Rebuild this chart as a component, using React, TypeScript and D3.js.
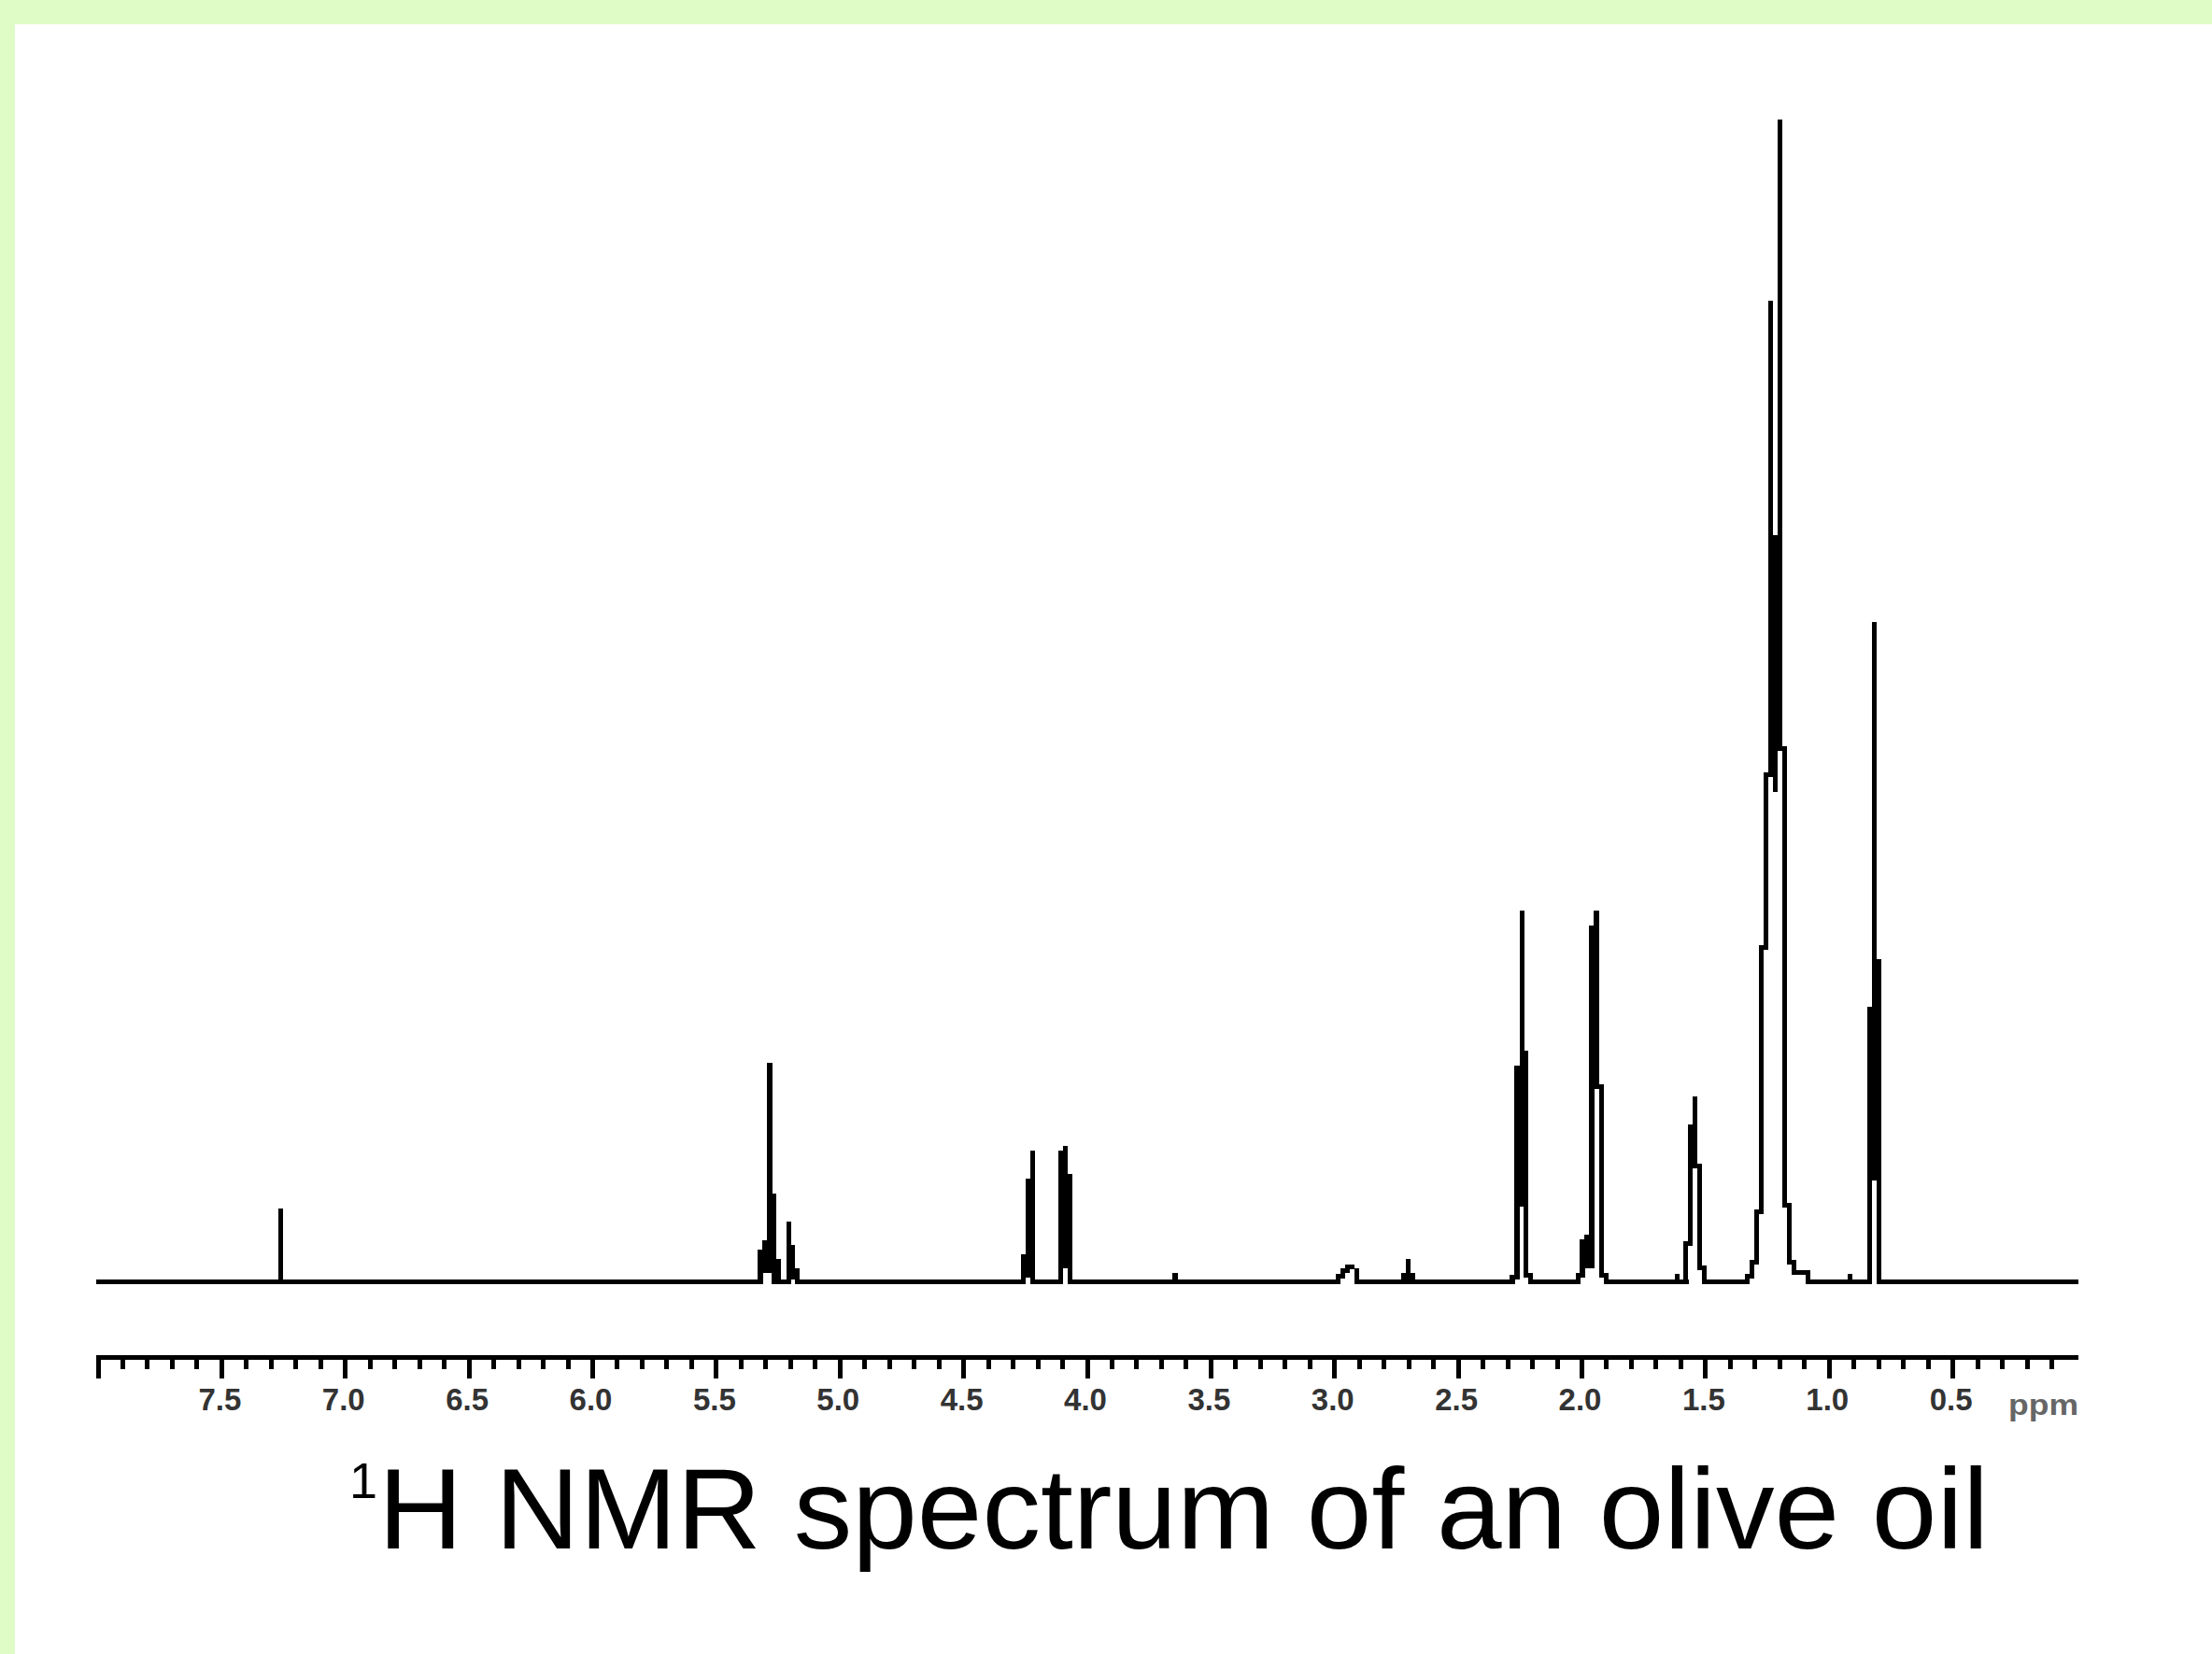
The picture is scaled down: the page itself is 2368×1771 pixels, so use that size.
import React from 'react';
import * as d3 from 'd3';

// Each entry: [chemical shift (ppm), lowest intensity, highest intensity] of one drawn column of the trace.
// Intensities are in % of the tallest line (the CH2 envelope at ~1.2 ppm).
type Col = [number, number, number];

const chloroform: Col[] = [[7.262, 0, 6.1]];

const olefinic: Col[] = [
  [5.322, 0, 2.6],
  [5.303, 1.0, 3.4],
  [5.284, 1.0, 18.7],
  [5.268, 0, 7.4],
  [5.25, 0, 1.8],
  [5.208, 0, 5.0],
  [5.191, 0.4, 3.0],
  [5.173, 0, 1.0],
];

const glyceryl: Col[] = [
  [4.258, 0, 2.2],
  [4.239, 0.6, 8.7],
  [4.22, 0, 11.1],
  [4.107, 0, 11.1],
  [4.088, 1.4, 11.5],
  [4.069, 0, 9.1],
];

const minor365: Col[] = [[3.645, 0, 0.55]];

const broad295: Col[] = [
  [2.986, 0, 0.5],
  [2.967, 0.5, 1.0],
  [2.948, 1.0, 1.3],
  [2.93, 1.3, 1.3],
  [2.911, 0, 1.0],
];

const bisAllylic: Col[] = [
  [2.72, 0, 0.6],
  [2.703, 0, 1.8],
  [2.685, 0, 0.6],
];

const alphaCarbonyl: Col[] = [
  [2.281, 0, 0.4],
  [2.262, 0.4, 18.4],
  [2.243, 6.7, 31.8],
  [2.227, 0.6, 19.7],
  [2.208, 0, 0.6],
];

const allylic: Col[] = [
  [2.014, 0, 0.6],
  [1.998, 0.6, 3.5],
  [1.979, 1.4, 3.9],
  [1.96, 1.4, 30.5],
  [1.941, 16.8, 31.8],
  [1.922, 0.6, 16.8],
  [1.903, 0, 0.6],
];

const betaCarbonyl: Col[] = [
  [1.614, 0, 0.5],
  [1.582, 0, 3.3],
  [1.561, 3.3, 13.4],
  [1.542, 10.0, 15.8],
  [1.523, 1.2, 10.0],
  [1.504, 0, 1.2],
];

const methylene: Col[] = [
  [1.331, 0, 0.5],
  [1.312, 0.5, 1.7],
  [1.293, 1.7, 6.0],
  [1.274, 6.0, 28.8],
  [1.255, 28.8, 43.7],
  [1.236, 43.7, 84.4],
  [1.218, 42.4, 64.2],
  [1.198, 46.0, 100],
  [1.18, 6.6, 46.0],
  [1.161, 1.7, 6.6],
  [1.142, 0.8, 1.7],
  [1.123, 0.8, 0.8],
  [1.104, 0.8, 0.8],
  [1.085, 0, 0.8],
];

const minor091: Col[] = [[0.915, 0, 0.5]];

const methyl: Col[] = [
  [0.836, 0, 23.5],
  [0.817, 8.9, 56.7],
  [0.798, 0, 27.6],
];

const majorTicks = [8.0, 7.5, 7.0, 6.5, 6.0, 5.5, 5.0, 4.5, 4.0, 3.5, 3.0, 2.5, 2.0, 1.5, 1.0, 0.5];
const tickLabels = ['', '7.5', '7.0', '6.5', '6.0', '5.5', '5.0', '4.5', '4.0', '3.5', '3.0', '2.5', '2.0', '1.5', '1.0', '0.5'];
const axisUnit = 'ppm';
const titleSup = '1';
const titleMain = 'H NMR spectrum of an olive oil';

const W = 2368;
const H = 1771;
const GREEN = '#dffcc7';

export default function App() {
  const x = d3.scaleLinear().domain([8, 0]).range([105, 2223]);
  const y = d3.scaleLinear().domain([0, 100]).range([1372.5, 130.5]);

  const cols: Col[] = [
    ...chloroform, ...olefinic, ...glyceryl, ...minor365, ...broad295, ...bisAllylic,
    ...alphaCarbonyl, ...allylic, ...betaCarbonyl, ...methylene, ...minor091, ...methyl,
  ].sort((a, b) => b[0] - a[0]);

  const cw = 5.3; // column width
  const lt = 5; // line thickness

  // baseline segments between the columns
  const segs: [number, number][] = [];
  let start = x(8) - 2;
  for (const c of cols) {
    const cx = x(c[0]);
    if (cx - cw / 2 > start + 0.5) segs.push([start, cx - cw / 2 + 0.5]);
    start = Math.max(start, cx + cw / 2 - 0.5);
  }
  segs.push([start, x(0) + 2]);

  const minorTicks = d3.range(1, 81).map((i) => i / 10);
  const isMajor = (v: number) => Math.abs(v * 2 - Math.round(v * 2)) < 1e-6;

  const axisY = 1453.5;

  return (
    <svg
      width={W}
      height={H}
      viewBox={`0 0 ${W} ${H}`}
      style={{ position: 'absolute', left: 0, top: 0, display: 'block' }}
    >
      <rect x={0} y={0} width={W} height={H} fill="#ffffff" />
      <rect x={0} y={0} width={W} height={26} fill={GREEN} />
      <rect x={0} y={0} width={16} height={H} fill={GREEN} />

      {/* spectrum trace */}
      <g fill="#000" shapeRendering="crispEdges">
        {segs.map((s, i) => (
          <rect key={'b' + i} x={s[0]} y={y(0) - lt / 2} width={s[1] - s[0]} height={lt} />
        ))}
        {cols.map((c, i) => (
          <rect
            key={'c' + i}
            x={x(c[0]) - cw / 2}
            y={y(c[2]) - lt / 2}
            width={cw}
            height={y(c[1]) - y(c[2]) + lt}
          />
        ))}
      </g>

      {/* axis */}
      <g fill="#000" shapeRendering="crispEdges">
        <rect x={x(8) - 2} y={axisY - 2.5} width={x(0) + 2 - (x(8) - 2)} height={5} />
        {minorTicks.map((v) => (
          <rect
            key={'t' + v}
            x={x(v) - 2.5}
            y={axisY}
            width={5}
            height={isMajor(v) ? 22.5 : 12.5}
          />
        ))}
      </g>
      <g
        fontFamily="'Liberation Sans', Arial, sans-serif"
        fontWeight="bold"
        fontSize={33}
        fill="#333"
        textAnchor="middle"
      >
        {majorTicks.map((v, i) =>
          tickLabels[i] ? (
            <text key={'l' + v} x={x(v) - 2} y={1510}>
              {tickLabels[i]}
            </text>
          ) : null
        )}
      </g>
      <text
        x={2150}
        y={1515}
        fontFamily="'Liberation Sans', Arial, sans-serif"
        fontWeight="bold"
        fontSize={32}
        fill="#666"
        textLength={75}
        lengthAdjust="spacingAndGlyphs"
      >
        {axisUnit}
      </text>

      {/* title */}
      <text
        x={374}
        y={1604}
        fontFamily="'Liberation Sans', Arial, sans-serif"
        fontSize={54}
        fill="#000"
      >
        {titleSup}
      </text>
      <text
        x={405}
        y={1658}
        fontFamily="'Liberation Sans', Arial, sans-serif"
        fontSize={122}
        fill="#000"
        textLength={1724}
        lengthAdjust="spacingAndGlyphs"
      >
        {titleMain}
      </text>
    </svg>
  );
}
